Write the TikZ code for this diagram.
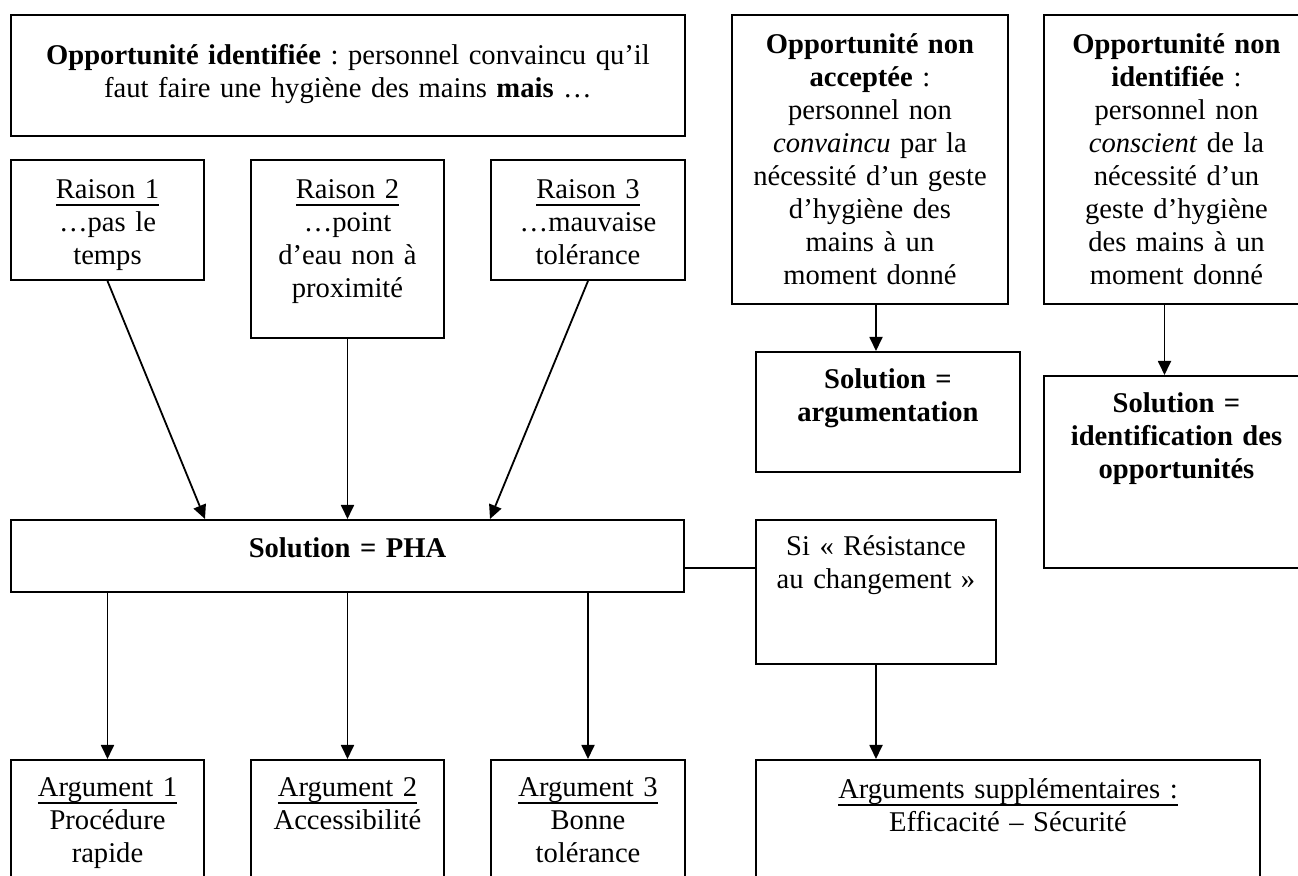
\documentclass[tikz,border=0pt]{standalone}
\usepackage{fontspec}
\setmainfont{Liberation Serif}
\usetikzlibrary{positioning,arrows.meta}
\frenchspacing
\newlength\soulargeur
\newcommand\souligne[1]{\settowidth\soulargeur{#1}\rlap{\rule[-3.3pt]{\soulargeur}{0.7pt}}#1}

\begin{document}
\begin{tikzpicture}[
  x=0.5pt, y=-0.5pt,
  boite/.style n args={3}{draw, line width=1pt, anchor=north west, align=center,
    inner xsep=0pt, inner ysep=0pt, text width=#1, text depth=#2, text height=#3,
    font=\fontsize{14.3}{16.5}\selectfont},
  fleche/.style={-{Triangle[length=7pt,width=6.5pt]}, line width=0.9pt},
  lien/.style={line width=0.9pt}]
\path[use as bounding box, fill=white] (0,0) rectangle (1298,876);
% ligne du haut
\node[boite={337pt}{35.5pt}{25pt}] (opp) at (10,14)
  {\textbf{Opportunité identifiée} : personnel convaincu qu’il\\
   faut faire une hygiène des mains \textbf{mais} …};
\node[boite={138pt}{125pt}{19.5pt}] (nacc) at (731,14)
  {\textbf{Opportunité non}\\ \textbf{acceptée} :\\ personnel non\\
   \textit{convaincu} par la\\ nécessité d’un geste\\ d’hygiène des\\
   mains à un\\ moment donné};
\node[boite={132.5pt}{125pt}{19.5pt}] (nident) at (1043,14)
  {\textbf{Opportunité non}\\ \textbf{identifiée} :\\ personnel non\\
   \textit{conscient} de la\\ nécessité d’un\\ geste d’hygiène\\
   des mains à un\\ moment donné};
% raisons
\node[boite={96.5pt}{40.5pt}{19.5pt}] (r1) at (10,159)
  {\souligne{Raison 1}\\ …pas le\\ temps};
\node[boite={96.5pt}{69.5pt}{19.5pt}] (r2) at (250,159)
  {\souligne{Raison 2}\\ …point\\ d’eau non à\\ proximité};
\node[boite={97pt}{40.5pt}{19.5pt}] (r3) at (490,159)
  {\souligne{Raison 3}\\ …mauvaise\\ tolérance};
% solutions
\node[boite={132pt}{41.5pt}{18.5pt}] (arg) at (755,351)
  {\textbf{Solution =}\\ \textbf{argumentation}};
\node[boite={132.5pt}{77.5pt}{18.5pt}] (idt) at (1043,375)
  {\textbf{Solution =}\\ \textbf{identification des}\\ \textbf{opportunités}};
\node[boite={336.5pt}{17pt}{19pt}] (pha) at (10,519) {\textbf{Solution = PHA}};
\node[boite={120pt}{54pt}{18pt}] (res) at (755,519)
  {Si « Résistance\\ au changement »};
% arguments
\node[boite={96.5pt}{57pt}{18.5pt}] (a1) at (10,759)
  {\souligne{Argument 1}\\ Procédure\\ rapide};
\node[boite={96.5pt}{57pt}{18.5pt}] (a2) at (250,759)
  {\souligne{Argument 2}\\ Accessibilité};
\node[boite={97pt}{57pt}{18.5pt}] (a3) at (490,759)
  {\souligne{Argument 3}\\ Bonne\\ tolérance};
\node[boite={252pt}{57pt}{19.5pt}] (asup) at (755,759)
  {\souligne{Arguments supplémentaires :}\\ Efficacité – Sécurité};
% connecteurs
\draw[fleche] (r1.south) -- (r1.east |- pha.north);
\draw[fleche] (r2.south) -- (r2.south |- pha.north);
\draw[fleche] (r3.south) -- (r3.west |- pha.north);
\draw[fleche] (a1.north |- pha.south) -- (a1.north);
\draw[fleche] (a2.north |- pha.south) -- (a2.north);
\draw[fleche] (a3.north |- pha.south) -- (a3.north);
\draw[fleche] ([xshift=3pt]nacc.south) -- ([xshift=3pt]nacc.south |- arg.north);
\draw[fleche] ([xshift=-6pt]nident.south) -- ([xshift=-6pt]nident.south |- idt.north);
\draw[lien] ([yshift=-6pt]pha.east) -- ([yshift=-6pt]pha.east -| res.west);
\draw[fleche] (res.south) -- (res.south |- asup.north);
\end{tikzpicture}
\end{document}
